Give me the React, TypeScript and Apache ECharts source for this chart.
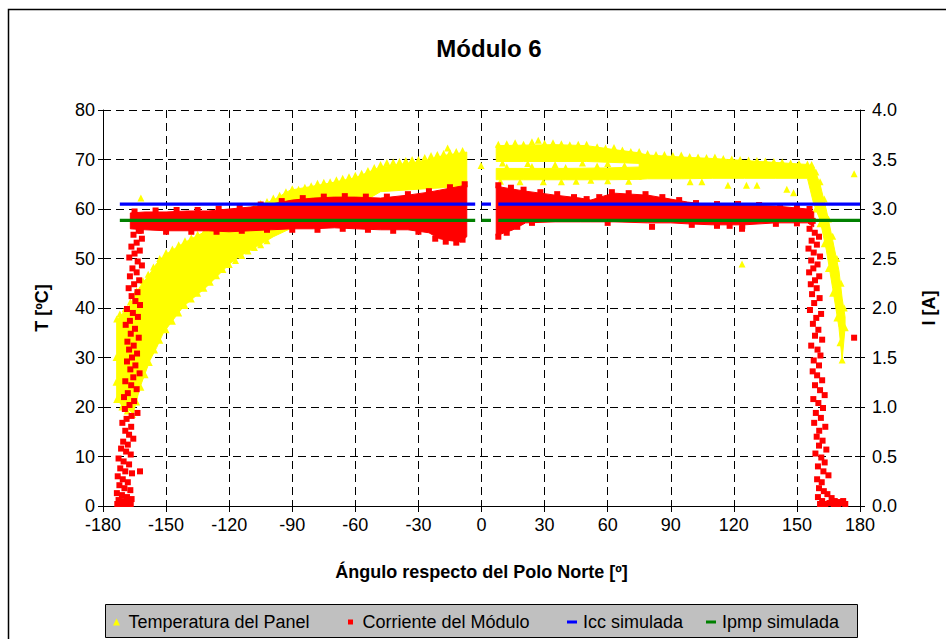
import React, { useEffect, useRef } from "react";
import * as echarts from "echarts";

// ---------- DATA ----------
const xTicks = [-180, -150, -120, -90, -60, -30, 0, 30, 60, 90, 120, 150, 180];

// Dense temperature bands [angle, lowT, highT] (°C)
const tempBandLeft = [
  [-173.5, 22, 37.5], [-171.5, 20.5, 38.5], [-168, 19.5, 40], [-165.6, 18.7, 42],
  [-162.4, 24, 44.3], [-157.6, 29.5, 47], [-154.5, 32, 49], [-151.3, 35, 50.5],
  [-141.8, 40.3, 53.1], [-130.7, 44.3, 55.6], [-119.6, 49, 57.4], [-114.8, 50.5, 58.8],
  [-106.9, 52.4, 60.5], [-99, 54.4, 61.8], [-91, 56, 63.8], [-75, 58.5, 65],
  [-60, 60.5, 66.3], [-48, 63.5, 68.5], [-30, 64, 69.5], [-18, 64.3, 70.8], [-7, 64.5, 71.5],
];
const tempBandRightA = [
  [7, 69.6, 72.8], [20, 69.6, 72.9], [35, 69.6, 73], [50, 69.6, 72.8], [63, 69.4, 72], [76, 69.2, 71.3],
];
const tempBandRightB = [
  [7, 65.9, 68.2], [20, 65.9, 68.2], [40, 65.9, 68.2], [60, 65.9, 68.3], [76, 66, 68.5],
];
const tempBandRightC = [
  [75, 66, 71.3], [79, 66.1, 70.9], [95, 66.1, 70.5], [110, 66.2, 70.2], [125, 66.2, 69.8],
  [140, 66.2, 69.4], [155, 66.2, 69], [158, 61, 68.5], [161, 57.8, 65], [164, 51.7, 59.8],
  [167, 44, 53.7], [170, 36, 47.5], [171.5, 29.5, 42], [172.9, 36, 38.2],
];
// Individual temperature points (edges and outliers) [angle, T]
const tempPoints = [
  [-172, 38.8], [-169.5, 39.8], [-167, 41.2], [-164, 43.5], [-161, 45.5], [-158.5, 46.8], [-156, 48.3],
  [-153, 50], [-150, 51.2], [-147, 51.9], [-144, 52.8], [-141, 53.6], [-138, 54.2], [-135, 54.9],
  [-132, 55.3], [-129, 56.0], [-126, 56.5], [-123, 57.2], [-120, 57.8], [-117, 58.4], [-114, 59.1],
  [-111, 59.8], [-108, 60.6], [-105, 61.1], [-102, 61.5], [-99, 62.2], [-96, 62.8], [-93, 63.5],
  [-90, 64.1], [-87, 64.0], [-84, 64.4], [-81, 64.7], [-78, 65.2], [-75, 65.4], [-72, 65.5],
  [-69, 65.9], [-66, 66.2], [-63, 66.5], [-60, 66.8], [-57, 67.2], [-54, 67.8], [-51, 68.4],
  [-48, 69.0], [-45, 69.4], [-42, 69.5], [-39, 69.6], [-36, 69.8], [-33, 70.0], [-30, 70.0],
  [-27, 70.4], [-24, 70.8], [-21, 71.0], [-18, 71.2], [-15, 71.4], [-12, 71.6], [-9, 71.8],
  [-16.1, 72.3], [-162, 62.2], [-0.2, 68.8],
  [-173.5, 21.5], [-171, 20], [-168.5, 19.2], [-166, 18.5], [-164, 21], [-162, 24], [-160, 26.5],
  [-158, 29], [-155.5, 31.5], [-153, 33.5], [-150, 35.6], [-147, 37.3], [-144, 39], [-141, 40.5],
  [-138, 41.8], [-135, 43], [-132, 44], [-129, 45.2], [-126, 46.5], [-123, 47.8], [-120, 48.8],
  [-117, 49.6], [-114, 50.6], [-111, 51.5], [-108, 52.2], [-105, 52.8], [-102, 53.6],
  [-173.5, 37.8], [-173.8, 30], [-173.8, 25],
  [8, 73.1], [12, 73.2], [16, 73.4], [20, 73.1], [24, 73.6], [27, 73.9], [30, 73.3], [34, 73.4],
  [38, 73.2], [42, 73.0], [46, 73.1], [50, 73.1], [55, 72.6], [59, 72.3], [63, 72.4], [67, 71.9],
  [71, 71.6], [75, 71.6], [79, 71.2], [83, 71.0], [87, 71.0], [91, 70.8], [95, 70.9], [99, 70.6],
  [103, 70.5], [107, 70.4], [111, 70.5], [115, 70.2], [119, 70.1], [123, 70.0], [127, 69.9],
  [131, 69.8], [135, 69.7], [139, 69.6], [143, 69.5], [147, 69.3], [151, 69.2], [155, 69.1],
  [9, 65.6], [18.3, 65.5], [29.4, 65.5], [38, 65.5], [45, 65.6], [52, 65.8], [60, 65.7], [70, 65.6],
  [99.2, 65.5], [104.8, 65.5], [117.2, 64.8], [126, 64.8], [131, 64.8], [145.2, 64], [148.4, 63.3],
  [10, 69.3], [22, 69.2], [35, 69.0], [48, 69.3], [60, 69.2],
  [12, 68.5], [24, 68.6], [40, 68.4], [55, 68.7], [68, 68.8],
  [123.9, 48.9], [177.2, 67.1],
  [157, 69], [159, 67.5], [161, 65.5], [163, 62], [165, 58], [167, 54.5], [169, 50], [171, 45],
  [172.5, 40], [173, 36], [171.5, 29.5], [170.5, 33], [169, 38], [167, 43], [165, 48], [163, 53],
  [161, 57], [159, 60],
];

// Dense current bands [angle, lowI, highI] (A)
const currBandLeft = [
  [-167, 2.80, 2.96], [-160, 2.79, 2.97], [-150, 2.78, 2.97], [-140, 2.78, 2.98], [-130, 2.78, 2.98],
  [-120, 2.77, 3.00], [-110, 2.78, 3.02], [-100, 2.79, 3.05], [-90, 2.80, 3.09], [-80, 2.80, 3.11],
  [-70, 2.81, 3.12], [-60, 2.80, 3.12], [-48, 2.79, 3.11], [-35, 2.79, 3.14], [-25, 2.76, 3.17],
  [-20, 2.70, 3.19], [-15, 2.68, 3.21], [-10, 2.67, 3.23], [-7, 2.72, 3.24],
];
const currBandRight = [
  [7, 2.73, 3.23], [15, 2.79, 3.20], [21, 2.86, 3.18], [35, 2.87, 3.14], [47, 2.87, 3.11],
  [52, 2.87, 3.09], [58, 2.87, 3.13], [63, 2.87, 3.16], [79, 2.86, 3.14], [90, 2.86, 3.10],
  [98, 2.85, 3.07], [110, 2.84, 3.04], [125, 2.84, 3.04], [140, 2.86, 3.03], [155, 2.86, 3.00],
  [158, 2.82, 2.97],
];
// Individual current points [angle, I]
const currPoints = [
  [-165, 2.975], [-155, 2.985], [-145, 2.99], [-135, 2.99], [-125, 3.005], [-115, 3.02], [-105, 3.045],
  [-95, 3.08], [-85, 3.11], [-75, 3.125], [-65, 3.13], [-55, 3.125], [-45, 3.125], [-35, 3.15],
  [-25, 3.18], [-15, 3.22], [-8, 3.25],
  [-162, 2.78], [-150, 2.77], [-138, 2.77], [-126, 2.77], [-114, 2.78], [-102, 2.79], [-90, 2.79],
  [-78, 2.79], [-66, 2.80], [-54, 2.79], [-42, 2.78], [-30, 2.77], [-22, 2.70], [-17, 2.67],
  [-12, 2.66], [-9, 2.69],
  [8, 3.24], [14, 3.215], [20, 3.195], [28, 3.17], [36, 3.15], [44, 3.12], [50, 3.10], [56, 3.12],
  [62, 3.17], [70, 3.16], [78, 3.15], [86, 3.12], [94, 3.09], [102, 3.06], [112, 3.05], [122, 3.05],
  [132, 3.04], [142, 3.03], [150, 3.01], [156, 3.0],
  [8, 2.72], [12, 2.76], [17, 2.82], [24, 2.86], [60, 2.86], [100, 2.84], [112, 2.83], [118, 2.83],
  [124, 2.83], [140, 2.85], [150, 2.855], [81.1, 2.82], [123.9, 2.80],
  // left drop
  [-163, 2.78], [-165.5, 2.74], [-161.5, 2.70], [-164, 2.66], [-166.5, 2.62],
  [-162.5, 2.58], [-165, 2.55], [-167.5, 2.51], [-163.5, 2.47], [-161.5, 2.43], [-166, 2.40],
  [-164, 2.36], [-167.2, 2.32], [-162.8, 2.28], [-165.2, 2.24], [-167.8, 2.20], [-163.6, 2.16],
  [-166.4, 2.12], [-164.6, 2.07], [-162.4, 2.03], [-168.6, 1.99], [-165.8, 1.95], [-163.4, 1.91],
  [-167.2, 1.87], [-169.2, 1.83], [-164.8, 1.79], [-166.8, 1.74], [-163, 1.70], [-168.4, 1.66],
  [-165.4, 1.62], [-167.6, 1.58], [-163.8, 1.54], [-166.2, 1.50], [-168.6, 1.46], [-164.6, 1.42],
  [-167, 1.38], [-162.6, 1.34], [-165.6, 1.30], [-169.4, 1.26], [-166.6, 1.22], [-164, 1.18],
  [-168.2, 1.14], [-170, 1.10], [-165.2, 1.06], [-167.4, 1.02], [-169.6, 0.98], [-163.6, 0.94],
  [-166.4, 0.91], [-168.8, 0.88], [-170.8, 0.84], [-166.6, 0.80], [-169.4, 0.76], [-167.6, 0.72],
  [-165.6, 0.68], [-170.4, 0.65], [-168.2, 0.62], [-171.4, 0.58], [-169, 0.55], [-166.8, 0.52],
  [-172.6, 0.48], [-170.2, 0.45], [-167.6, 0.42], [-171.8, 0.38], [-169.4, 0.35], [-166.2, 0.33],
  [-173, 0.30], [-170.6, 0.27], [-168.2, 0.24], [-172.2, 0.21], [-169.8, 0.18], [-167, 0.16],
  [-173.4, 0.13], [-171, 0.11], [-168.6, 0.09], [-166.4, 0.07], [-172.6, 0.06], [-170.2, 0.05],
  [-167.8, 0.04], [-173.2, 0.02], [-171.6, 0.02], [-169.4, 0.02], [-166.8, 0.02], [-162.4, 0.35],
  // right drop
  [154, 2.95], [156, 2.92], [157.5, 2.88],
  [156, 2.80], [158.5, 2.76], [160.5, 2.72], [157, 2.68], [159.5, 2.64], [155.5, 2.6], [158, 2.56],
  [161, 2.52], [156.8, 2.48], [159.8, 2.44], [157.8, 2.40], [155.8, 2.36], [160.6, 2.32],
  [158.6, 2.28], [156.6, 2.24], [159.4, 2.20], [157.2, 2.14], [160.8, 2.10], [158.2, 2.05],
  [156.2, 1.98], [161.5, 1.94], [159.2, 1.90], [157.6, 1.84], [160.2, 1.78], [158.6, 1.72],
  [162, 1.68], [156.8, 1.62], [159.8, 1.58], [161.2, 1.52], [158, 1.47], [160.5, 1.42],
  [157.5, 1.36], [159.6, 1.32], [162, 1.27], [158.6, 1.22], [161, 1.17], [163.2, 1.12],
  [157.8, 1.08], [160.2, 1.04], [162.4, 0.99], [159, 0.94], [161.4, 0.89], [158.2, 0.84],
  [163.5, 0.80], [160.6, 0.76], [159.4, 0.70], [162.2, 0.66], [160.5, 0.61], [164, 0.57],
  [158.8, 0.53], [161.6, 0.49], [163.2, 0.44], [160, 0.40], [162.6, 0.35], [165, 0.31],
  [159.6, 0.27], [161.8, 0.24], [160.5, 0.18], [162.8, 0.15], [164.5, 0.12], [160, 0.09],
  [166.5, 0.08], [162, 0.05], [168, 0.05], [170, 0.04], [172, 0.05], [173, 0.02], [161, 0.02],
  [163.5, 0.02], [165.5, 0.03], [167.5, 0.02], [169.5, 0.02], [171.5, 0.03], [177.2, 1.70],
];

// Simulated currents (A) and the angle spans where they were computed
const iccValue = 3.05;
const ipmpValue = 2.885;
const simSegments = [[-172, -3], [0, 4.5], [8, 180]];

const names = ["Temperatura del Panel", "Corriente del Módulo", "Icc simulada", "Ipmp simulada"];
const colors = { temp: "#ffff00", curr: "#ff0000", icc: "#0000ff", ipmp: "#008000" };

const FONT = "'Liberation Sans', Arial, sans-serif";

function bandSeries(name: string, band: number[][], color: string, yAxisIndex: number, z: number) {
  return {
    type: "custom",
    name,
    yAxisIndex,
    z,
    silent: true,
    itemStyle: { color },
    data: band,
    encode: { x: 0, y: [1, 2] },
    renderItem: (params: any, api: any) => {
      if (params.dataIndex !== 0) return { type: "group", children: [] };
      const pts: number[][] = [];
      band.forEach((b) => pts.push(api.coord([b[0], b[2]])));
      for (let i = band.length - 1; i >= 0; i--) pts.push(api.coord([band[i][0], band[i][1]]));
      return { type: "polygon", shape: { points: pts }, style: { fill: color, stroke: color, lineWidth: 1 } };
    },
  };
}

function simSeries(name: string, value: number, color: string) {
  return simSegments.map((seg) => ({
    type: "line",
    name,
    yAxisIndex: 1,
    z: 5,
    symbol: "none",
    silent: true,
    lineStyle: { color, width: 3.2 },
    itemStyle: { color },
    data: seg.map((x) => [x, value]),
  }));
}

export default function App() {
  const ref = useRef<HTMLDivElement>(null);
  useEffect(() => {
    if (!ref.current) return;
    const chart = echarts.init(ref.current, undefined, { renderer: "svg" });
    const dashed = { show: true, lineStyle: { color: "#000", type: [8, 5], width: 1 } };
    const axisText = { color: "#000", fontSize: 18, fontFamily: FONT };
    const legendBase = {
      top: 613,
      orient: "horizontal",
      padding: 0,
      textStyle: { color: "#000", fontSize: 18, fontFamily: FONT },
      selectedMode: false,
      itemGap: 0,
    };
    chart.setOption({
      animation: false,
      backgroundColor: "#fff",
      title: {
        text: "Módulo 6",
        left: 484,
        top: 31,
        textAlign: "center",
        textStyle: { fontSize: 24, fontWeight: "bold", color: "#000", fontFamily: FONT },
      },
      grid: { left: 103, right: 86, top: 110, bottom: 133, containLabel: false },
      xAxis: {
        type: "value",
        min: -180,
        max: 180,
        interval: 30,
        name: "Ángulo respecto del Polo Norte [º]",
        nameLocation: "middle",
        nameGap: 57,
        nameTextStyle: { ...axisText, fontWeight: "bold" },
        axisLine: { show: true, onZero: false, lineStyle: { color: "#000", width: 1 } },
        axisTick: { show: true, length: 6, lineStyle: { color: "#000" } },
        axisLabel: { ...axisText, margin: 10, formatter: (v: number) => (xTicks.includes(v) ? String(v) : "") },
        splitLine: dashed,
      },
      yAxis: [
        {
          type: "value",
          min: 0,
          max: 80,
          interval: 10,
          name: "T [ºC]",
          nameLocation: "middle",
          nameRotate: 90,
          nameGap: 52,
          nameTextStyle: { ...axisText, fontWeight: "bold" },
          axisLine: { show: true, onZero: false, lineStyle: { color: "#000", width: 1 } },
          axisTick: { show: true, length: 5, lineStyle: { color: "#000" } },
          axisLabel: { ...axisText, margin: 8 },
          splitLine: dashed,
        },
        {
          type: "value",
          min: 0,
          max: 4,
          interval: 0.5,
          position: "right",
          name: "I [A]",
          nameLocation: "middle",
          nameRotate: 90,
          nameGap: 60,
          nameTextStyle: { ...axisText, fontWeight: "bold" },
          axisLine: { show: true, onZero: false, lineStyle: { color: "#000", width: 1 } },
          axisTick: { show: true, length: 5, lineStyle: { color: "#000" } },
          axisLabel: { ...axisText, margin: 12, formatter: (v: number) => v.toFixed(1) },
          splitLine: { show: false },
        },
        {
          // inner half of the crossing ticks on the right axis
          type: "value",
          min: 0,
          max: 4,
          interval: 0.5,
          position: "right",
          axisLine: { show: false, onZero: false },
          axisTick: { show: true, inside: true, length: 5, lineStyle: { color: "#000" } },
          axisLabel: { show: false },
          splitLine: { show: false },
        },
      ],
      legend: [
        {
          ...legendBase,
          left: 113,
          data: [{ name: names[0], icon: "path://M5,0L10,10L0,10Z", itemStyle: { color: colors.temp } }],
          itemWidth: 14,
          itemHeight: 7,
        },
        {
          ...legendBase,
          left: 348,
          data: [{ name: names[1], icon: "path://M0,0H10V10H0Z", itemStyle: { color: colors.curr } }],
          itemWidth: 14,
          itemHeight: 5,
        },
        {
          ...legendBase,
          left: 567,
          data: [{ name: names[2], icon: "path://M0,0H10V3H0Z", itemStyle: { color: colors.icc } }],
          itemWidth: 12,
          itemHeight: 3,
        },
        {
          ...legendBase,
          left: 706,
          data: [{ name: names[3], icon: "path://M0,0H10V3H0Z", itemStyle: { color: colors.ipmp } }],
          itemWidth: 12,
          itemHeight: 3,
        },
      ],
      graphic: [
        {
          type: "rect",
          z: -10,
          silent: true,
          shape: { x: 8.5, y: 9.5, width: 1200, height: 1200 },
          style: { fill: "none", stroke: "#000", lineWidth: 1.5 },
        },
        {
          type: "rect",
          z: -5,
          silent: true,
          shape: { x: 105.5, y: 604.5, width: 752, height: 33 },
          style: { fill: "#c0c0c0", stroke: "#000", lineWidth: 1 },
        },
      ],
      series: [
        bandSeries(names[0], tempBandLeft, colors.temp, 0, 1),
        bandSeries(names[0], tempBandRightA, colors.temp, 0, 1),
        bandSeries(names[0], tempBandRightB, colors.temp, 0, 1),
        bandSeries(names[0], tempBandRightC, colors.temp, 0, 1),
        {
          type: "scatter",
          name: names[0],
          yAxisIndex: 0,
          z: 2,
          symbol: "triangle",
          symbolSize: 7,
          itemStyle: { color: colors.temp, opacity: 1 },
          data: tempPoints,
        },
        bandSeries(names[1], currBandLeft, colors.curr, 1, 3),
        bandSeries(names[1], currBandRight, colors.curr, 1, 3),
        {
          type: "scatter",
          name: names[1],
          yAxisIndex: 1,
          z: 4,
          symbol: "rect",
          symbolSize: 6,
          itemStyle: { color: colors.curr, opacity: 1 },
          data: currPoints,
        },
        ...simSeries(names[2], iccValue, colors.icc),
        ...simSeries(names[3], ipmpValue, colors.ipmp),
      ],
    });
    return () => chart.dispose();
  }, []);
  return <div ref={ref} style={{ position: "fixed", left: 0, top: 0, width: 946, height: 639 }} />;
}
